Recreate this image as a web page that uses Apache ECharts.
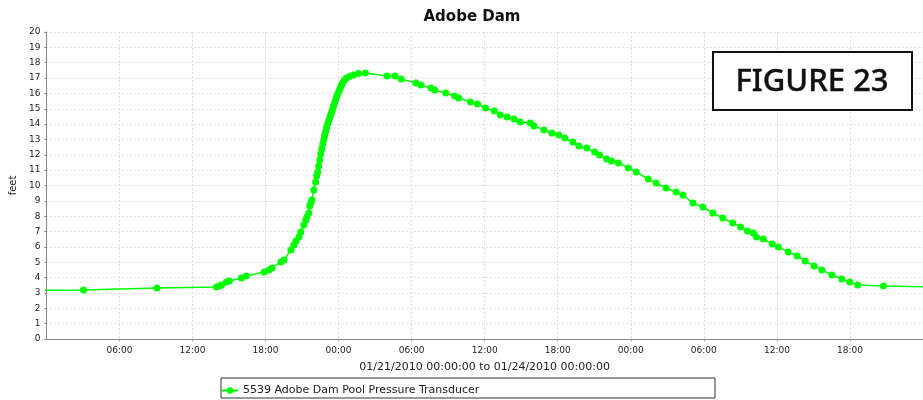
<!DOCTYPE html>
<html>
<head>
<meta charset="utf-8">
<script src="https://cdn.jsdelivr.net/npm/echarts@6/dist/echarts.min.js"></script>
<style>
html,body{margin:0;padding:0;background:#fff;}
#chart{width:923px;height:400px;}
</style>
</head>
<body>
<div id="chart"></div>
<script>
var chartTitle = 'Adobe Dam';
var seriesName = '5539 Adobe Dam Pool Pressure Transducer';
var xAxisName = '01/21/2010 00:00:00 to 01/24/2010 00:00:00';
var yAxisName = 'feet';
var figureLabel = 'FIGURE 23';
var xMin = '2010-01-21 00:00';
var xMax = '2010-01-24 00:00';

var times = [
 '2010-01-20 22:00','2010-01-21 03:03','2010-01-21 09:05','2010-01-21 13:58','2010-01-21 14:13','2010-01-21 14:23',
 '2010-01-21 14:47','2010-01-21 15:02','2010-01-21 16:01','2010-01-21 16:25','2010-01-21 17:53','2010-01-21 18:17',
 '2010-01-21 18:32','2010-01-21 19:16','2010-01-21 19:31','2010-01-21 20:05','2010-01-21 20:20','2010-01-21 20:30',
 '2010-01-21 20:45','2010-01-21 20:54','2010-01-21 21:09','2010-01-21 21:19','2010-01-21 21:24','2010-01-21 21:33',
 '2010-01-21 21:38','2010-01-21 21:43','2010-01-21 21:48','2010-01-21 21:58','2010-01-21 22:07','2010-01-21 22:12',
 '2010-01-21 22:17','2010-01-21 22:22','2010-01-21 22:27','2010-01-21 22:32','2010-01-21 22:37','2010-01-21 22:42',
 '2010-01-21 22:47','2010-01-21 22:51','2010-01-21 22:56','2010-01-21 23:01','2010-01-21 23:06','2010-01-21 23:11',
 '2010-01-21 23:16','2010-01-21 23:21','2010-01-21 23:26','2010-01-21 23:31','2010-01-21 23:35','2010-01-21 23:40',
 '2010-01-21 23:45','2010-01-21 23:50','2010-01-21 23:55','2010-01-22 00:00','2010-01-22 00:05','2010-01-22 00:10',
 '2010-01-22 00:15','2010-01-22 00:20','2010-01-22 00:29','2010-01-22 00:39','2010-01-22 00:54','2010-01-22 01:13',
 '2010-01-22 01:38','2010-01-22 02:12','2010-01-22 03:59','2010-01-22 04:38','2010-01-22 05:08','2010-01-22 06:21',
 '2010-01-22 06:46','2010-01-22 07:35','2010-01-22 07:54','2010-01-22 08:48','2010-01-22 09:32','2010-01-22 09:52',
 '2010-01-22 10:50','2010-01-22 11:25','2010-01-22 12:04','2010-01-22 12:48','2010-01-22 13:17','2010-01-22 13:51',
 '2010-01-22 14:25','2010-01-22 14:55','2010-01-22 15:44','2010-01-22 16:03','2010-01-22 16:52','2010-01-22 17:31',
 '2010-01-22 18:05','2010-01-22 18:35','2010-01-22 19:14','2010-01-22 19:44','2010-01-22 20:23','2010-01-22 21:02',
 '2010-01-22 21:26','2010-01-22 22:01','2010-01-22 22:25','2010-01-22 22:59','2010-01-22 23:48','2010-01-23 00:27',
 '2010-01-23 01:26','2010-01-23 02:05','2010-01-23 02:54','2010-01-23 03:43','2010-01-23 04:17','2010-01-23 05:06',
 '2010-01-23 05:55','2010-01-23 06:44','2010-01-23 07:33','2010-01-23 08:22','2010-01-23 09:01','2010-01-23 09:35',
 '2010-01-23 10:04','2010-01-23 10:19','2010-01-23 10:53','2010-01-23 11:37','2010-01-23 12:07','2010-01-23 12:56',
 '2010-01-23 13:40','2010-01-23 14:19','2010-01-23 15:03','2010-01-23 15:42','2010-01-23 16:31','2010-01-23 17:20',
 '2010-01-23 17:59','2010-01-23 18:38','2010-01-23 20:45','2010-01-24 02:00'
];
var feet = [
 3.18,3.19,3.32,3.39,3.45,3.52,
 3.71,3.78,3.97,4.10,4.36,4.50,
 4.63,5.02,5.15,5.80,6.12,6.38,
 6.64,6.97,7.43,7.75,7.95,8.21,
 8.66,8.86,9.06,9.71,10.23,10.62,
 10.88,11.27,11.66,12.05,12.38,12.70,
 12.96,13.22,13.49,13.75,14.01,14.20,
 14.40,14.59,14.79,14.98,15.18,15.37,
 15.57,15.77,15.93,16.09,16.25,16.42,
 16.55,16.68,16.87,17.00,17.10,17.20,
 17.30,17.33,17.13,17.13,16.94,16.68,
 16.55,16.35,16.22,16.03,15.83,15.70,
 15.44,15.31,15.05,14.85,14.59,14.46,
 14.33,14.14,14.07,13.88,13.62,13.42,
 13.29,13.09,12.83,12.57,12.44,12.18,
 11.99,11.73,11.60,11.47,11.14,10.88,
 10.42,10.16,9.84,9.58,9.38,8.86,
 8.60,8.21,7.88,7.56,7.30,7.04,
 6.91,6.64,6.51,6.19,5.99,5.67,
 5.41,5.08,4.76,4.50,4.17,3.91,
 3.71,3.52,3.45,3.38
];

// parse 'YYYY-MM-DD HH:mm' as UTC milliseconds
function toMs(s) {
  var p = s.split(/[- :]/).map(Number);
  return Date.UTC(p[0], p[1] - 1, p[2], p[3], p[4]);
}
function pad(n) { return (n < 10 ? '0' : '') + n; }

var seriesData = times.map(function (t, i) { return [toMs(t), feet[i]]; });
var chart = echarts.init(document.getElementById('chart'), null, {renderer: 'canvas'});
var SIX_H = 6 * 3600 * 1000;
var labelFont = {fontFamily: 'DejaVu Sans', fontSize: 9, color: '#222'};

chart.setOption({
  animation: false,
  backgroundColor: '#fff',
  title: {
    text: chartTitle, left: 467, top: 5, textAlign: 'center',
    textStyle: {fontFamily: 'DejaVu Sans', fontWeight: 'bold', fontSize: 15, color: '#111'}
  },
  grid: {left: 45, right: -6, top: 32, bottom: 61, containLabel: false},
  xAxis: {
    type: 'value', min: toMs(xMin), max: toMs(xMax), interval: SIX_H,
    name: xAxisName, nameLocation: 'middle', nameGap: 23,
    nameTextStyle: {fontFamily: 'DejaVu Sans', fontSize: 11, color: '#222'},
    axisLine: {lineStyle: {color: '#888', width: 1}},
    axisTick: {show: true, length: 2, lineStyle: {color: '#888'}},
    axisLabel: Object.assign({
      formatter: function (v) { var d = new Date(v); return pad(d.getUTCHours()) + ':' + pad(d.getUTCMinutes()); },
      margin: 7, showMinLabel: false, showMaxLabel: false
    }, labelFont),
    splitLine: {show: true, lineStyle: {color: '#ddd', type: [2, 2], width: 1}}
  },
  yAxis: {
    type: 'value', min: 0, max: 20, interval: 1,
    name: yAxisName, nameLocation: 'middle', nameGap: 27, nameRotate: 90,
    nameTextStyle: {fontFamily: 'DejaVu Sans', fontSize: 10, color: '#222'},
    axisLine: {show: true, lineStyle: {color: '#888', width: 1}},
    axisTick: {show: true, length: 2, lineStyle: {color: '#888'}},
    axisLabel: Object.assign({margin: 6}, labelFont),
    splitLine: {show: true, lineStyle: {color: '#ddd', type: [2, 2], width: 1}}
  },
  legend: {
    left: 216, top: 380, itemWidth: 16, itemHeight: 8, itemGap: 4,
    textStyle: {fontFamily: 'DejaVu Sans', fontSize: 11, color: '#222'},
    data: [seriesName]
  },
  graphic: [
    {type: 'rect', x: 221, y: 378, shape: {x: 0, y: 0, width: 494, height: 20},
     style: {fill: 'none', stroke: '#333', lineWidth: 1}, z: 1},
    {type: 'rect', x: 713, y: 52, shape: {x: 0, y: 0, width: 199, height: 58},
     style: {fill: '#fff', stroke: '#111', lineWidth: 2}, z: 100},
    {type: 'text', x: 812, y: 82, z: 101,
     style: {text: figureLabel, font: '500 31px "Noto Sans"', fill: '#111',
             stroke: '#111', lineWidth: 0.4, align: 'center', verticalAlign: 'middle'}}
  ],
  series: [{
    name: seriesName, type: 'line', data: seriesData,
    clip: true,
    symbol: 'circle', symbolSize: 7, showSymbol: true,
    lineStyle: {color: '#00ff00', width: 1.5},
    itemStyle: {color: '#00ff00'}
  }]
});
</script>
</body>
</html>
